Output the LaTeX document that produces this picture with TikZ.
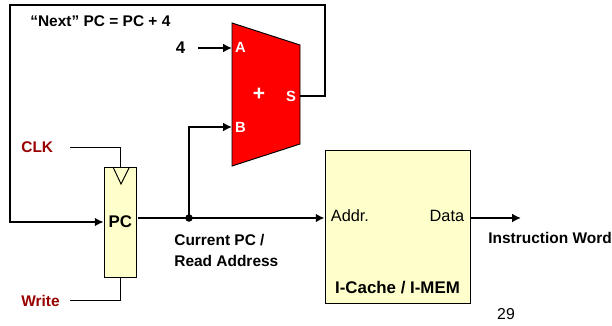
\documentclass[tikz,border=0pt]{standalone}
\usepackage{fontspec}
\setmainfont{Liberation Sans}
\usetikzlibrary{arrows.meta}
\definecolor{boxyellow}{HTML}{FFFFCC}
\definecolor{sigred}{HTML}{990000}
\newcommand{\lblsize}{\fontsize{8.8}{10.5}\selectfont\bfseries}
\tikzset{
	wire/.style={black,line width=1.15pt},
	thinwire/.style={black,line width=0.55pt},
	arrowwire/.style={wire,-{Latex[length=5pt,width=5pt]}},
	lbl/.style={font=\lblsize,anchor=west},
	siglbl/.style={lbl,text=sigred},
	addlbl/.style={text=white,font=\fontsize{8.4}{10}\selectfont\bfseries},
	regbox/.style={draw=black,line width=0.55pt,fill=boxyellow},
}
\begin{document}
\begin{tikzpicture}[x=0.02cm,y=0.02cm]
	\tikzstyle{every node}+=[inner sep=0pt]
	\useasboundingbox (0,0) rectangle (612,-325);
	% adder
	\coordinate (addtl) at (232,-23);
	\coordinate (addtr) at (300,-45);
	\coordinate (addbr) at (300,-144);
	\coordinate (addbl) at (232,-166);
	\draw [black,line width=0.55pt,fill=red] (addtl) -- (addtr) -- (addbr) -- (addbl) -- cycle;
	\node [addlbl] (adda) at (240.5,-47) {A};
	\node [addlbl] (addb) at (240.5,-127.5) {B};
	\node [addlbl] (adds) at (291,-96.5) {S};
	\node [addlbl,font=\fontsize{12}{13}\selectfont\bfseries] (addplus) at (259,-94.5) {+};
	\coordinate (ina) at (232,-48);
	\coordinate (inb) at (232,-127);
	\coordinate (outs) at (300,-96);
	% boxes
	\node [regbox,minimum width=0.65cm,minimum height=2.2cm] (pc) at (120.3,-222) {\fontsize{9.6}{11}\selectfont\bfseries PC};
	\node [regbox,minimum width=2.9cm,minimum height=3.06cm] (mem) at (397.5,-226.5) {};
	\draw [thinwire] (113,-167) -- (121,-184) -- (129.5,-167);
	% labels
	\node [lbl] (next) at (30,-21) {“Next” PC = PC + 4};
	\node [lbl,font=\fontsize{9.6}{11}\selectfont\bfseries] (four) at (175.5,-48) {4};
	\node [siglbl] (clk) at (21,-147.5) {CLK};
	\node [siglbl] (write) at (21,-300.5) {Write};
	\node [lbl,align=left] (cur) at (174,-250.5) {Current PC /\\[1.6pt]Read Address};
	\node [font=\fontsize{9.3}{11}\selectfont,anchor=west] (addr) at (330.5,-216) {Addr.};
	\node [font=\fontsize{9.3}{11}\selectfont,anchor=east] (data) at (464.5,-216) {Data};
	\node [font=\fontsize{9.6}{11}\selectfont\bfseries] (memname) at (397.5,-288) {I-Cache / I-MEM};
	\node [lbl] (word) at (488,-237.5) {Instruction Word};
	\node [font=\fontsize{9}{11}\selectfont] (page) at (506,-314.5) {29};
	% wires
	\coordinate (fourout) at (198,-48);
	\coordinate (clkout) at (70,-147.5);
	\coordinate (writeout) at (70,-300.5);
	\coordinate (pcout) at (138,-218);
	\coordinate (wordend) at (521,-218);
	\node [circle,fill=black,minimum size=0.15cm] (junction) at (189,-218) {};
	\draw [arrowwire] (fourout) -- (ina);
	\draw [arrowwire] (junction.center) |- (inb);
	\draw [arrowwire] (outs) -- (325,-96) -- (325,-5) -- (10,-5) -- (10,-222) -- (pc.west);
	\draw [wire] (pcout) -- (junction.center);
	\draw [arrowwire] (junction.center) -- (junction -| mem.west);
	\draw [arrowwire] (junction -| mem.east) -- (wordend);
	\draw [thinwire] (clkout) -| (pc.north);
	\draw [thinwire] (writeout) -| (pc.south);
\end{tikzpicture}
\end{document}
